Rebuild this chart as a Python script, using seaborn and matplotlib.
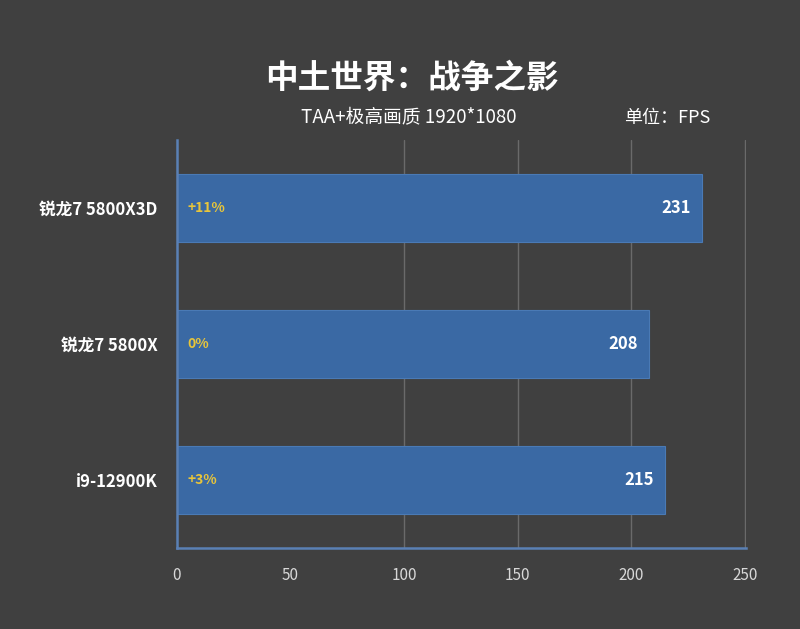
import matplotlib
matplotlib.use("Agg")
import matplotlib.pyplot as plt
import seaborn as sns
import pandas as pd

categories = ["锐龙7 5800X3D", "锐龙7 5800X", "i9-12900K"]
fps = [231, 208, 215]
pct_labels = ["+11%", "0%", "+3%"]
x_ticks = [0, 50, 100, 150, 200, 250]

title = "中土世界：战争之影"
subtitle = "TAA+极高画质 1920*1080"
unit = "单位：FPS"

sns.set_theme(style="dark")
plt.rcParams['font.family'] = ['Noto Sans CJK SC', 'DejaVu Sans']

bg = "#404040"
bar_color = "#3A69A4"

fig = plt.figure(figsize=(8, 6.29), dpi=100, facecolor=bg)
ax = fig.add_axes([0.221, 0.1288, 0.7115, 0.6486])
ax.set_facecolor(bg)

df = pd.DataFrame({"cpu": categories, "fps": fps})
sns.barplot(data=df, x="fps", y="cpu", orient="h", color=bar_color,
            saturation=1, width=0.5, ax=ax, edgecolor="#4A7AB5", linewidth=0.8)

ax.set_xlim(0, 250.5)
ax.set_ylim(2.5, -0.5)
ax.set_xticks(x_ticks)
ax.set_xticklabels([str(t) for t in x_ticks], color="#D8D8D8", fontsize=11)
ax.tick_params(axis="x", length=0, pad=14)
ax.tick_params(axis="y", length=0, pad=14)
for lbl in ax.get_yticklabels():
    lbl.set_color("white")
    lbl.set_fontsize(12)
    lbl.set_fontweight("bold")
ax.set_xlabel("")
ax.set_ylabel("")

for v in [100, 150, 200, 250]:
    ax.axvline(v, color="#6A6A6A", linewidth=1, zorder=0)
ax.grid(False)

for s in ["top", "right"]:
    ax.spines[s].set_visible(False)
for s in ["left", "bottom"]:
    ax.spines[s].set_visible(True)
    ax.spines[s].set_color("#5A80B5")
    ax.spines[s].set_linewidth(1.8)

for i, (v, p) in enumerate(zip(fps, pct_labels)):
    ax.text(v - 5, i, str(v), ha="right", va="center", color="white",
            fontsize=12, fontweight="bold")
    ax.text(4.5, i, p, ha="left", va="center", color="#E8C53A",
            fontsize=10, fontweight="bold")

fig.text(0.515, 0.876, title, ha="center", va="center", color="white",
         fontsize=23.5, fontweight="bold")
fig.text(0.511, 0.813, subtitle, ha="center", va="center", color="white",
         fontsize=13.5)
fig.text(0.834, 0.813, unit, ha="center", va="center", color="white",
         fontsize=13)

fig.savefig("out.png", dpi=100, facecolor=bg)
